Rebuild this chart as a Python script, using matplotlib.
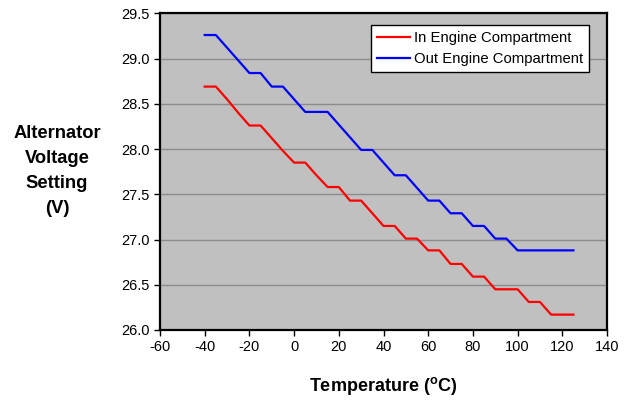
import matplotlib
matplotlib.use("Agg")
import matplotlib.pyplot as plt
import numpy as np

plt.rcParams['font.family'] = ['Liberation Sans', 'DejaVu Sans']
plt.rcParams['mathtext.fontset'] = 'custom'
plt.rcParams['mathtext.rm'] = 'Liberation Sans'
plt.rcParams['mathtext.bf'] = 'Liberation Sans:bold'
plt.rcParams['axes.unicode_minus'] = False

temps = [-40, -35, -30, -25, -20, -15, -10, -5, 0, 5, 10, 15, 20, 25, 30, 35, 40,
         45, 50, 55, 60, 65, 70, 75, 80, 85, 90, 95, 100, 105, 110, 115, 120, 125]

in_engine = [28.69, 28.69, 28.55, 28.40, 28.26, 28.26, 28.12, 27.98, 27.85, 27.85,
             27.71, 27.58, 27.58, 27.43, 27.43, 27.29, 27.15, 27.15, 27.01, 27.01,
             26.88, 26.88, 26.73, 26.73, 26.59, 26.59, 26.45, 26.45, 26.45, 26.31,
             26.31, 26.17, 26.17, 26.17]

out_engine = [29.26, 29.26, 29.12, 28.98, 28.84, 28.84, 28.69, 28.69, 28.55, 28.41,
              28.41, 28.41, 28.27, 28.13, 27.99, 27.99, 27.85, 27.71, 27.71, 27.57,
              27.43, 27.43, 27.29, 27.29, 27.15, 27.15, 27.01, 27.01, 26.88, 26.88,
              26.88, 26.88, 26.88, 26.88]

xticks = np.arange(-60, 141, 20)
yticks = np.arange(26.0, 29.51, 0.5)

fig = plt.figure(figsize=(6.36, 4.04), dpi=100)
ax = fig.add_axes([160/636, 1-330/404, 447/636, 316.7/404])
ax.set_facecolor('#c0c0c0')

ax.plot(temps, in_engine, color='#ff0000', lw=1.6, label='In Engine Compartment')
ax.plot(temps, out_engine, color='#0000ff', lw=1.6, label='Out Engine Compartment')

ax.set_xlim(-60, 140)
ax.set_ylim(26.0, 29.5)
ax.set_xticks(xticks)
ax.set_yticks(yticks)
ax.set_yticklabels(['%.1f' % v for v in yticks])
ax.yaxis.grid(True, color='#8c8c8c', lw=1)
ax.set_axisbelow(True)
ax.tick_params(direction='out', length=4, width=1, labelsize=10.5, colors='black')

for sp in ax.spines.values():
    sp.set_linewidth(1.6)
    sp.set_color('black')

ax.set_xlabel(r'Temperature ($^{\mathbf{o}}$C)', fontsize=13, fontweight='bold', labelpad=15)
fig.text(57/636, 1-171/404, 'Alternator\nVoltage\nSetting\n(V)', ha='center', va='center',
         fontsize=13.2, fontweight='bold', linespacing=1.6)

leg = ax.legend(loc='upper right', bbox_to_anchor=(0.9604, 0.963), borderaxespad=0,
                fontsize=10.7, handlelength=2.2, handletextpad=0.3, borderpad=0.4,
                labelspacing=0.5, fancybox=False, framealpha=1, edgecolor='black')
leg.get_frame().set_linewidth(1)

fig.savefig('out.png', dpi=100)
